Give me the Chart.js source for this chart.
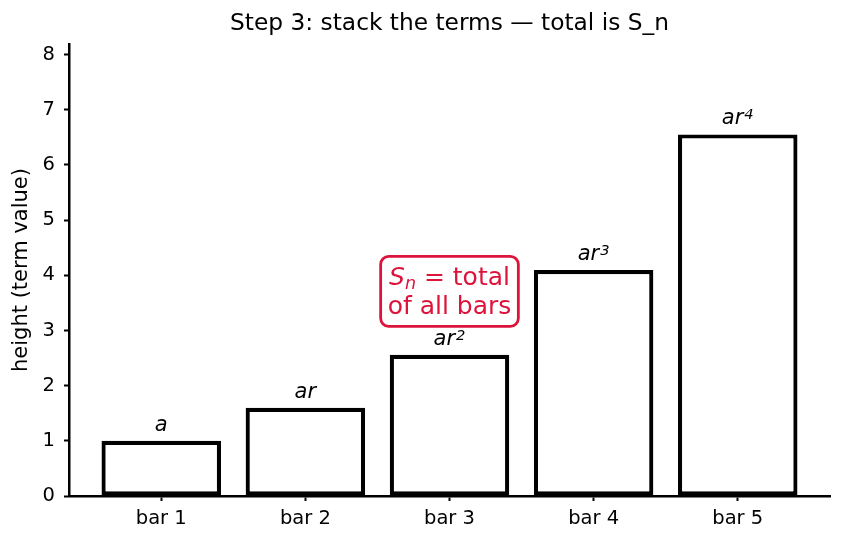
<!DOCTYPE html>
<html><head><meta charset="utf-8">
<script src="https://cdn.jsdelivr.net/npm/chart.js@4"></script>
<style>html,body{margin:0;padding:0;background:#fff}#wrap{width:842px;height:544px}</style>
</head><body><div id="wrap"><canvas id="c" width="842" height="544"></canvas></div>
<script>
const categories = ['bar 1', 'bar 2', 'bar 3', 'bar 4', 'bar 5'];
const termValues = [1, 1.6, 2.56, 4.096, 6.5536];
const termBase = ['a', 'ar', 'ar', 'ar', 'ar'];
const termPower = ['', '', '2', '3', '4'];
const yTicks = [0, 1, 2, 3, 4, 5, 6, 7, 8];
const yMax = 8.192;
const annotationLine1 = ['S', 'n', ' = total'];
const annotationLine2 = 'of all bars';
const annotationAt = [2, 3.71];
const chartTitle = 'Step 3: stack the terms \u2014 total is S_n';
const yTitle = 'height (term value)';

const FAM = '"DejaVu Sans", sans-serif';
const CRIMSON = '#DC143C';

const labelPlugin = {
  id: 'termLabels',
  afterDatasetsDraw(chart) {
    const ctx = chart.ctx;
    const xs = chart.scales.x, ys = chart.scales.y;
    const area = chart.chartArea;
    ctx.save();
    // title centred over the axes
    ctx.fillStyle = '#000';
    ctx.font = '23.3px ' + FAM;
    ctx.textAlign = 'center';
    ctx.textBaseline = 'middle';
    ctx.fillText(chartTitle, (area.left + area.right) / 2, 24);

    ctx.textBaseline = 'alphabetic';
    ctx.textAlign = 'left';
    termValues.forEach((v, i) => {
      const cx = xs.getPixelForValue(i);
      const by = ys.getPixelForValue(v) - 10;
      ctx.font = 'italic 21px ' + FAM;
      const w1 = ctx.measureText(termBase[i]).width;
      let w2 = 0;
      if (termPower[i]) {
        ctx.font = 'italic 14.7px ' + FAM;
        w2 = ctx.measureText(termPower[i]).width + 1;
      }
      const x0 = cx - (w1 + w2) / 2;
      ctx.font = 'italic 21px ' + FAM;
      ctx.fillText(termBase[i], x0, by);
      if (termPower[i]) {
        ctx.font = 'italic 14.7px ' + FAM;
        ctx.fillText(termPower[i], x0 + w1 + 1, by - 5);
      }
    });
    // annotation box
    const ax = xs.getPixelForValue(annotationAt[0]);
    const ay = ys.getPixelForValue(annotationAt[1]);
    const big = 25, small = 17.5, lh = 29;
    ctx.font = 'italic ' + big + 'px ' + FAM;
    const wS = ctx.measureText(annotationLine1[0]).width;
    ctx.font = 'italic ' + small + 'px ' + FAM;
    const wN = ctx.measureText(annotationLine1[1]).width;
    ctx.font = big + 'px ' + FAM;
    const wR = ctx.measureText(annotationLine1[2]).width;
    const wL2 = ctx.measureText(annotationLine2).width;
    const w1 = wS + wN + wR;
    const maxW = Math.max(w1, wL2);
    const bw = maxW + 14, bh = 2 * lh + 12;
    const bx = ax - bw / 2, byy = ay - bh / 2;
    ctx.beginPath();
    ctx.roundRect(bx, byy, bw, bh, 8);
    ctx.fillStyle = '#fff';
    ctx.fill();
    ctx.lineWidth = 2.8;
    ctx.strokeStyle = CRIMSON;
    ctx.stroke();
    ctx.fillStyle = CRIMSON;
    const base1 = ay - 6.5, base2 = base1 + lh;
    let x = ax - w1 / 2;
    ctx.font = 'italic ' + big + 'px ' + FAM;
    ctx.fillText(annotationLine1[0], x, base1); x += wS;
    ctx.font = 'italic ' + small + 'px ' + FAM;
    ctx.fillText(annotationLine1[1], x, base1 + 4); x += wN;
    ctx.font = big + 'px ' + FAM;
    ctx.fillText(annotationLine1[2], x, base1);
    ctx.fillText(annotationLine2, ax - wL2 / 2, base2);
    ctx.restore();
  }
};

new Chart(document.getElementById('c'), {
  type: 'bar',
  data: {
    datasets: [{
      data: termValues.map((v, i) => ({ x: i, y: v })),
      backgroundColor: '#ffffff',
      borderColor: '#000000',
      borderWidth: 4.2,
      borderSkipped: false,
      barPercentage: 0.829,
      categoryPercentage: 1.0
    }]
  },
  options: {
    responsive: false,
    devicePixelRatio: 1,
    animation: false,
    layout: { padding: { left: 0, right: 12, top: 44, bottom: 0 } },
    plugins: {
      legend: { display: false },
      tooltip: { enabled: false },
      title: { display: false }
    },
    scales: {
      x: {
        type: 'linear', min: -0.64, max: 4.64, offset: false,
        afterBuildTicks: (s) => { s.ticks = categories.map((c, i) => ({ value: i })); },
        afterFit: (s) => { s.height = 48; },
        grid: { offset: false, drawOnChartArea: false, drawTicks: true, tickLength: 5, tickWidth: 2, color: '#000' },
        border: { display: true, color: '#000', width: 2.5 },
        ticks: {
          color: '#000', padding: 6, maxRotation: 0, autoSkip: false,
          font: { family: FAM, size: 19.5 },
          callback: (v) => categories[v]
        }
      },
      y: {
        min: 0, max: yMax,
        afterBuildTicks: (s) => { s.ticks = yTicks.map(v => ({ value: v })); },
        afterFit: (s) => { s.width = 69; },
        grid: { drawOnChartArea: false, drawTicks: true, tickLength: 5, tickWidth: 2, color: '#000' },
        border: { display: true, color: '#000', width: 2.5 },
        ticks: { color: '#000', padding: 9, font: { family: FAM, size: 19.5 } },
        title: {
          display: true, text: yTitle, color: '#000',
          font: { family: FAM, size: 21 },
          padding: { top: 9.4, bottom: 0 }
        }
      }
    }
  },
  plugins: [labelPlugin]
});
</script></body></html>
